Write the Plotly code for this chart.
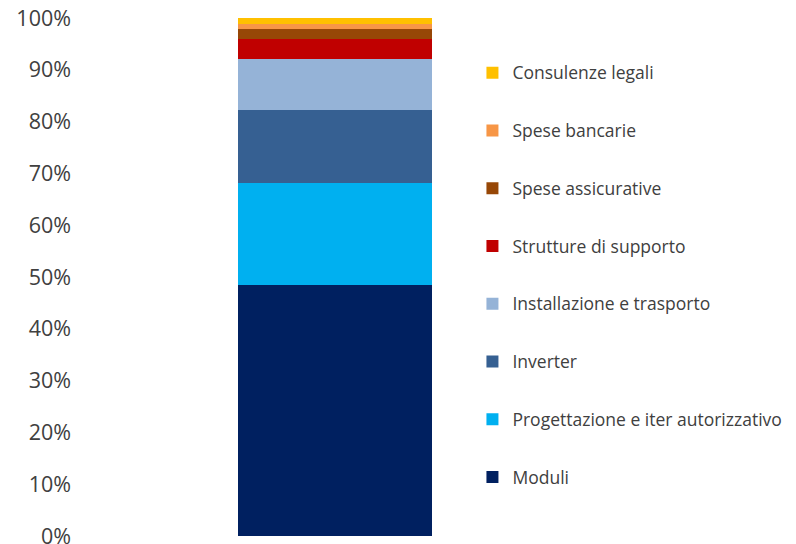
import plotly.graph_objects as go

categories = [""]
series_names = [
    "Moduli",
    "Progettazione e iter autorizzativo",
    "Inverter",
    "Installazione e trasporto",
    "Strutture di supporto",
    "Spese assicurative",
    "Spese bancarie",
    "Consulenze legali",
]
series_values = [0.484, 0.198, 0.140, 0.098, 0.040, 0.019, 0.010, 0.011]
colors = ["#002060", "#00B0F0", "#366092", "#95B3D7", "#C00000", "#974706", "#F79646", "#FFC000"]
y_ticks = [0, 0.1, 0.2, 0.3, 0.4, 0.5, 0.6, 0.7, 0.8, 0.9, 1.0]

fig = go.Figure()
n = len(series_names)
for i, (name, val, col) in enumerate(zip(series_names, series_values, colors)):
    fig.add_trace(go.Bar(
        x=categories, y=[val], name=name, marker_color=col,
        marker_line_width=0, width=0.382, legendgroup=str(i),
        legendrank=n - i,
    ))

fig.update_layout(
    barmode="stack",
    width=796, height=544,
    margin=dict(l=72, r=214, t=10, b=16, autoexpand=False),
    plot_bgcolor="white", paper_bgcolor="white",
    font=dict(family="Open Sans", color="#404040"),
    showlegend=True,
    legend=dict(
        x=0.7695, xanchor="left", y=0.929, yanchor="top",
        traceorder="grouped", tracegroupgap=32,
        font=dict(size=17.5, color="#404040"),
        itemwidth=30,
    ),
    xaxis=dict(range=[-0.5, 0.5], showticklabels=False, showline=False, showgrid=False,
               zeroline=False, automargin=False),
    yaxis=dict(range=[0, 1], tickvals=y_ticks, tickformat=".0%", showgrid=False,
               zeroline=False, showline=False, tickfont=dict(size=21.5, color="#404040"),
               ticks="", ticklabelstandoff=8, automargin=False, ticklabeloverflow="allow"),
)
fig.write_html("out.html")
